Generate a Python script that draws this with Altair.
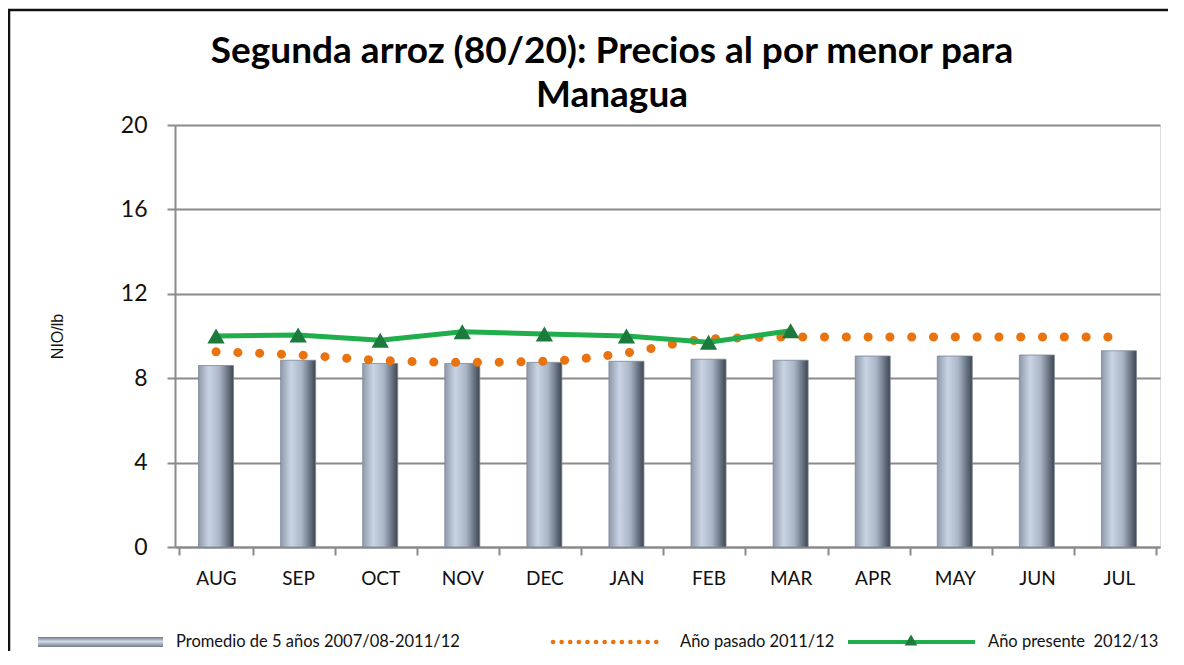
import altair as alt
import pandas as pd

months = ["AUG", "SEP", "OCT", "NOV", "DEC", "JAN", "FEB", "MAR", "APR", "MAY", "JUN", "JUL"]
avg_5yr = [8.6, 8.85, 8.7, 8.7, 8.75, 8.8, 8.9, 8.85, 9.05, 9.05, 9.1, 9.3]
last_year = [9.25, 9.1, 8.85, 8.75, 8.8, 9.2, 9.85, 9.95, 9.95, 9.95, 9.95, 9.95]
present_months = ["AUG", "SEP", "OCT", "NOV", "DEC", "JAN", "FEB", "MAR"]
present_year = [10.0, 10.05, 9.8, 10.2, 10.1, 10.0, 9.7, 10.25]
y_ticks = [0, 4, 8, 12, 16, 20]

title_lines = ["Segunda arroz (80/20): Precios al por menor para", "Managua"]
legend_labels = ["Promedio de 5 años 2007/08-2011/12", "Año pasado 2011/12", "Año presente\u00a0\u00a02012/13"]

df_bar = pd.DataFrame({"month": months, "value": avg_5yr})
df_last = pd.DataFrame({"month": months, "value": last_year})
df_pres = pd.DataFrame({"month": present_months, "value": present_year})
one = pd.DataFrame({"k": [0]})

GREEN = "#1fae4b"
TRI = "#1c7a3c"
ORANGE = "#e8730f"
GRID = "#8a8a8a"
FONT = "Lato"

x_enc = alt.X(
    "month:N", sort=months, title=None,
    scale=alt.Scale(domain=months),
    axis=alt.Axis(labelAngle=0, labelFontSize=19, labelFont=FONT, labelColor="#111",
                  tickBand="extent", tickSize=8, tickColor=GRID, tickWidth=2,
                  domainColor=GRID, domainWidth=2, labelPadding=14, grid=False),
)
y_enc = alt.Y(
    "value:Q", title="NIO/lb",
    scale=alt.Scale(domain=[0, 20], nice=False, zero=True),
    axis=alt.Axis(values=y_ticks, labelFontSize=23, labelFont=FONT, labelColor="#111",
                  tickSize=8, tickColor=GRID, tickWidth=2, domainColor=GRID, domainWidth=2,
                  gridColor=GRID, gridWidth=2, labelPadding=20,
                  titleFont="Liberation Sans", titleFontSize=16, titleFontWeight="normal",
                  titleColor="#111", titleAngle=-90, titleX=-118, titleY=211,
                  titleAlign="center", titleBaseline="middle"),
)

bar_grad = alt.Gradient(
    gradient="linear", x1=0, x2=1, y1=0, y2=0,
    stops=[
        alt.GradientStop(color="#8e9aab", offset=0),
        alt.GradientStop(color="#c9d4e3", offset=0.3),
        alt.GradientStop(color="#aab6c7", offset=0.6),
        alt.GradientStop(color="#65707f", offset=0.85),
        alt.GradientStop(color="#3e4550", offset=1),
    ],
)

bars = alt.Chart(df_bar).mark_bar(size=35, color=bar_grad, stroke="#7b8595", strokeWidth=0.8).encode(
    x=x_enc, y=y_enc
)

orange = alt.Chart(df_last).mark_line(
    color=ORANGE, strokeWidth=9, strokeDash=[0.1, 21.7], strokeCap="round", interpolate="monotone"
).encode(x=alt.X("month:N", sort=months), y="value:Q")

green_line = alt.Chart(df_pres).mark_line(color=GREEN, strokeWidth=5).encode(
    x=alt.X("month:N", sort=months), y="value:Q"
)
green_pts = alt.Chart(df_pres).mark_point(
    shape="triangle-up", filled=True, size=300, color=TRI, opacity=1
).encode(x=alt.X("month:N", sort=months), y="value:Q")

# frame lines (left and top) around the whole figure, kept inside the drawing
frame_left = alt.Chart(one).mark_rule(color="#111", strokeWidth=2.5).encode(
    x=alt.value(-166), y=alt.value(-116), y2=alt.value(530)
)
frame_top = alt.Chart(one).mark_rule(color="#111", strokeWidth=2.5).encode(
    x=alt.value(-167), x2=alt.value(993), y=alt.value(-115)
)

# title as text marks
title_marks = []
for ty, line in zip([-62, -18], title_lines):
    title_marks.append(
        alt.Chart(one).mark_text(align="center", baseline="alphabetic", fontSize=37, font=FONT,
                                 fontWeight="bold", color="#000").encode(
            x=alt.value(437), y=alt.value(ty), text=alt.value(line)
        )
    )

# manual legend
LY = 517
leg_grad = alt.Gradient(
    gradient="linear", x1=0, x2=0, y1=0, y2=1,
    stops=[
        alt.GradientStop(color="#6f7a8a", offset=0),
        alt.GradientStop(color="#d3dbe7", offset=0.45),
        alt.GradientStop(color="#6f7a8a", offset=1),
    ],
)
leg_bar = alt.Chart(one).mark_rect(color=leg_grad).encode(
    x=alt.value(-137), x2=alt.value(-12), y=alt.value(LY - 5), y2=alt.value(LY + 5)
)
leg_orange = alt.Chart(one).mark_rule(
    color=ORANGE, strokeWidth=4.5, strokeDash=[0.1, 8.5], strokeCap="round"
).encode(x=alt.value(378), x2=alt.value(485), y=alt.value(LY))
leg_green = alt.Chart(one).mark_rule(color=GREEN, strokeWidth=4).encode(
    x=alt.value(673), x2=alt.value(800), y=alt.value(LY)
)
leg_tri = alt.Chart(one).mark_point(shape="triangle-up", filled=True, size=160, color=TRI, opacity=1).encode(
    x=alt.value(736), y=alt.value(LY - 2)
)
leg_texts = []
for xpos, lab in zip([1, 505, 813], legend_labels):
    leg_texts.append(
        alt.Chart(one).mark_text(align="left", baseline="middle", fontSize=16.5, font=FONT, color="#111").encode(
            x=alt.value(xpos), y=alt.value(LY), text=alt.value(lab)
        )
    )

chart = alt.layer(
    frame_left, frame_top, bars, orange, green_line, green_pts, leg_bar, leg_orange, leg_green, leg_tri,
    *leg_texts, *title_marks
).properties(
    width=985, height=422,
    autosize=alt.AutoSizeParams(type="none"),
    padding={"left": 167, "top": 117, "right": 8, "bottom": 104},
).configure_view(stroke=None).configure(background="white")

chart.save("out.html", embed_options={"renderer": "svg", "actions": False})
